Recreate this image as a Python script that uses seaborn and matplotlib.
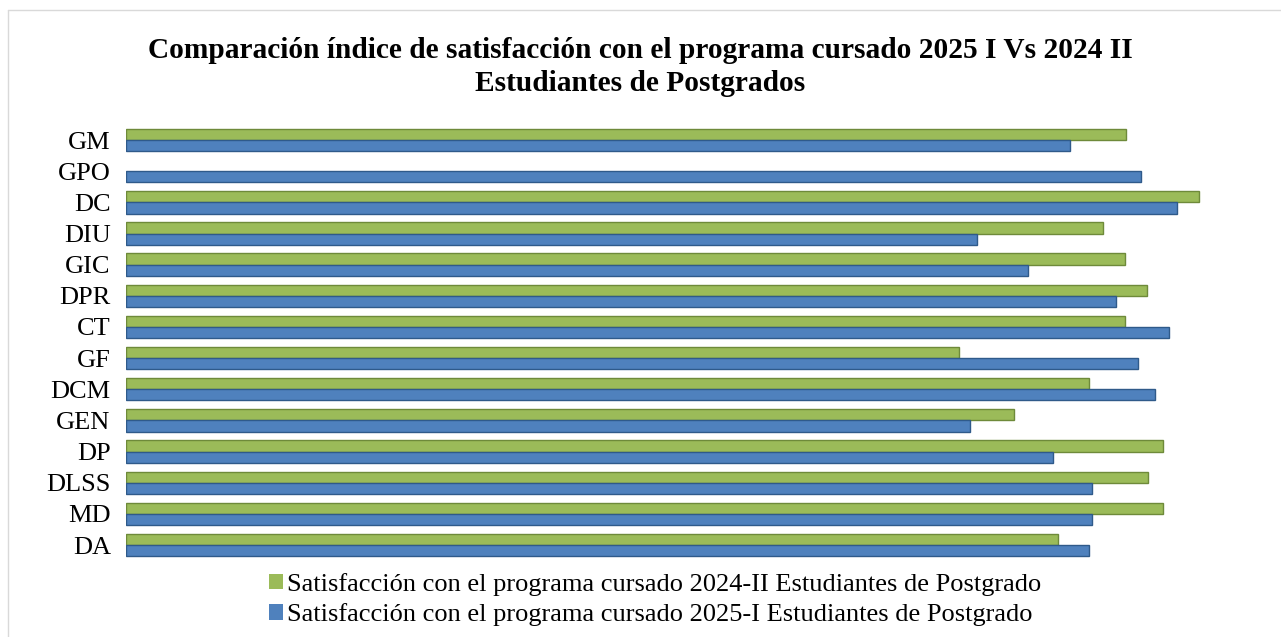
import matplotlib
matplotlib.use("Agg")
import matplotlib.pyplot as plt
import seaborn as sns
import pandas as pd
from matplotlib.lines import Line2D
from matplotlib.patches import Patch

categories = ["GM", "GPO", "DC", "DIU", "GIC", "DPR", "CT", "GF", "DCM", "GEN", "DP", "DLSS", "MD", "DA"]
sat_2024_II = [90.9, 0.0, 97.5, 88.8, 90.8, 92.8, 90.8, 75.7, 87.5, 80.7, 94.3, 92.9, 94.3, 84.7]
sat_2025_I = [85.8, 92.3, 95.5, 77.4, 82.0, 90.0, 94.8, 92.0, 93.5, 76.7, 84.3, 87.8, 87.8, 87.5]
series_names = [
    "Satisfacción con el programa cursado 2024-II Estudiantes de Postgrado",
    "Satisfacción con el programa cursado 2025-I Estudiantes de Postgrado",
]
title = "Comparación índice de satisfacción con el programa cursado 2025 I Vs 2024 II\nEstudiantes de Postgrados"

colors = ["#9BBB59", "#4F81BD"]
edges = ["#6E8A3A", "#2F5A8A"]

df = pd.DataFrame({
    "cat": categories * 2,
    "val": sat_2024_II + sat_2025_I,
    "serie": [series_names[0]] * len(categories) + [series_names[1]] * len(categories),
})

sns.set_style("white")
plt.rcParams["font.family"] = ["Liberation Serif", "DejaVu Serif"]
plt.rcParams["text.color"] = "black"
plt.rcParams["ytick.color"] = "black"
plt.rcParams["ytick.labelcolor"] = "black"

W, H = 1281, 637
fig = plt.figure(figsize=(W / 100, H / 100), dpi=100)
ax = fig.add_axes([126 / W, 1 - 560.6 / H, 1100 / W, (560.6 - 124.5) / H])

sns.barplot(data=df, y="cat", x="val", hue="serie", order=categories,
            hue_order=series_names, palette=colors, orient="h",
            width=0.72, ax=ax, legend=False, saturation=1)

for i, container in enumerate(ax.containers):
    for bar in container:
        if bar.get_width() <= 0:
            bar.set_visible(False)
            continue
        bar.set_edgecolor(edges[i])
        bar.set_linewidth(1.0)

ax.set_xlim(0, 100)
ax.set_xlabel("")
ax.set_ylabel("")
ax.set_xticks([])
ax.tick_params(axis="y", length=0, labelsize=19, pad=11, labelcolor="black")
for s in ax.spines.values():
    s.set_visible(False)

fig.text(0.5, 1 - 67 / H, title, ha="center", va="center", fontsize=21.2,
         fontweight="bold", linespacing=1.3, color="black")

handles = [Patch(facecolor=c, edgecolor="none") for c in colors]
leg = fig.legend(handles, series_names, loc="center", bbox_to_anchor=(655 / W, 1 - 599.5 / H),
                 ncol=1, frameon=False, fontsize=19, handlelength=0.55, handleheight=0.55,
                 handletextpad=0.15, labelspacing=0.28, borderpad=0)
for t in leg.get_texts():
    t.set_color("black")

fig.add_artist(Line2D([8 / W, 8 / W], [0, 1 - 10 / H], color="#D9D9D9", lw=1))
fig.add_artist(Line2D([8 / W, 1], [1 - 10 / H, 1 - 10 / H], color="#D9D9D9", lw=1))

fig.savefig("out.png", dpi=100, facecolor="white")
